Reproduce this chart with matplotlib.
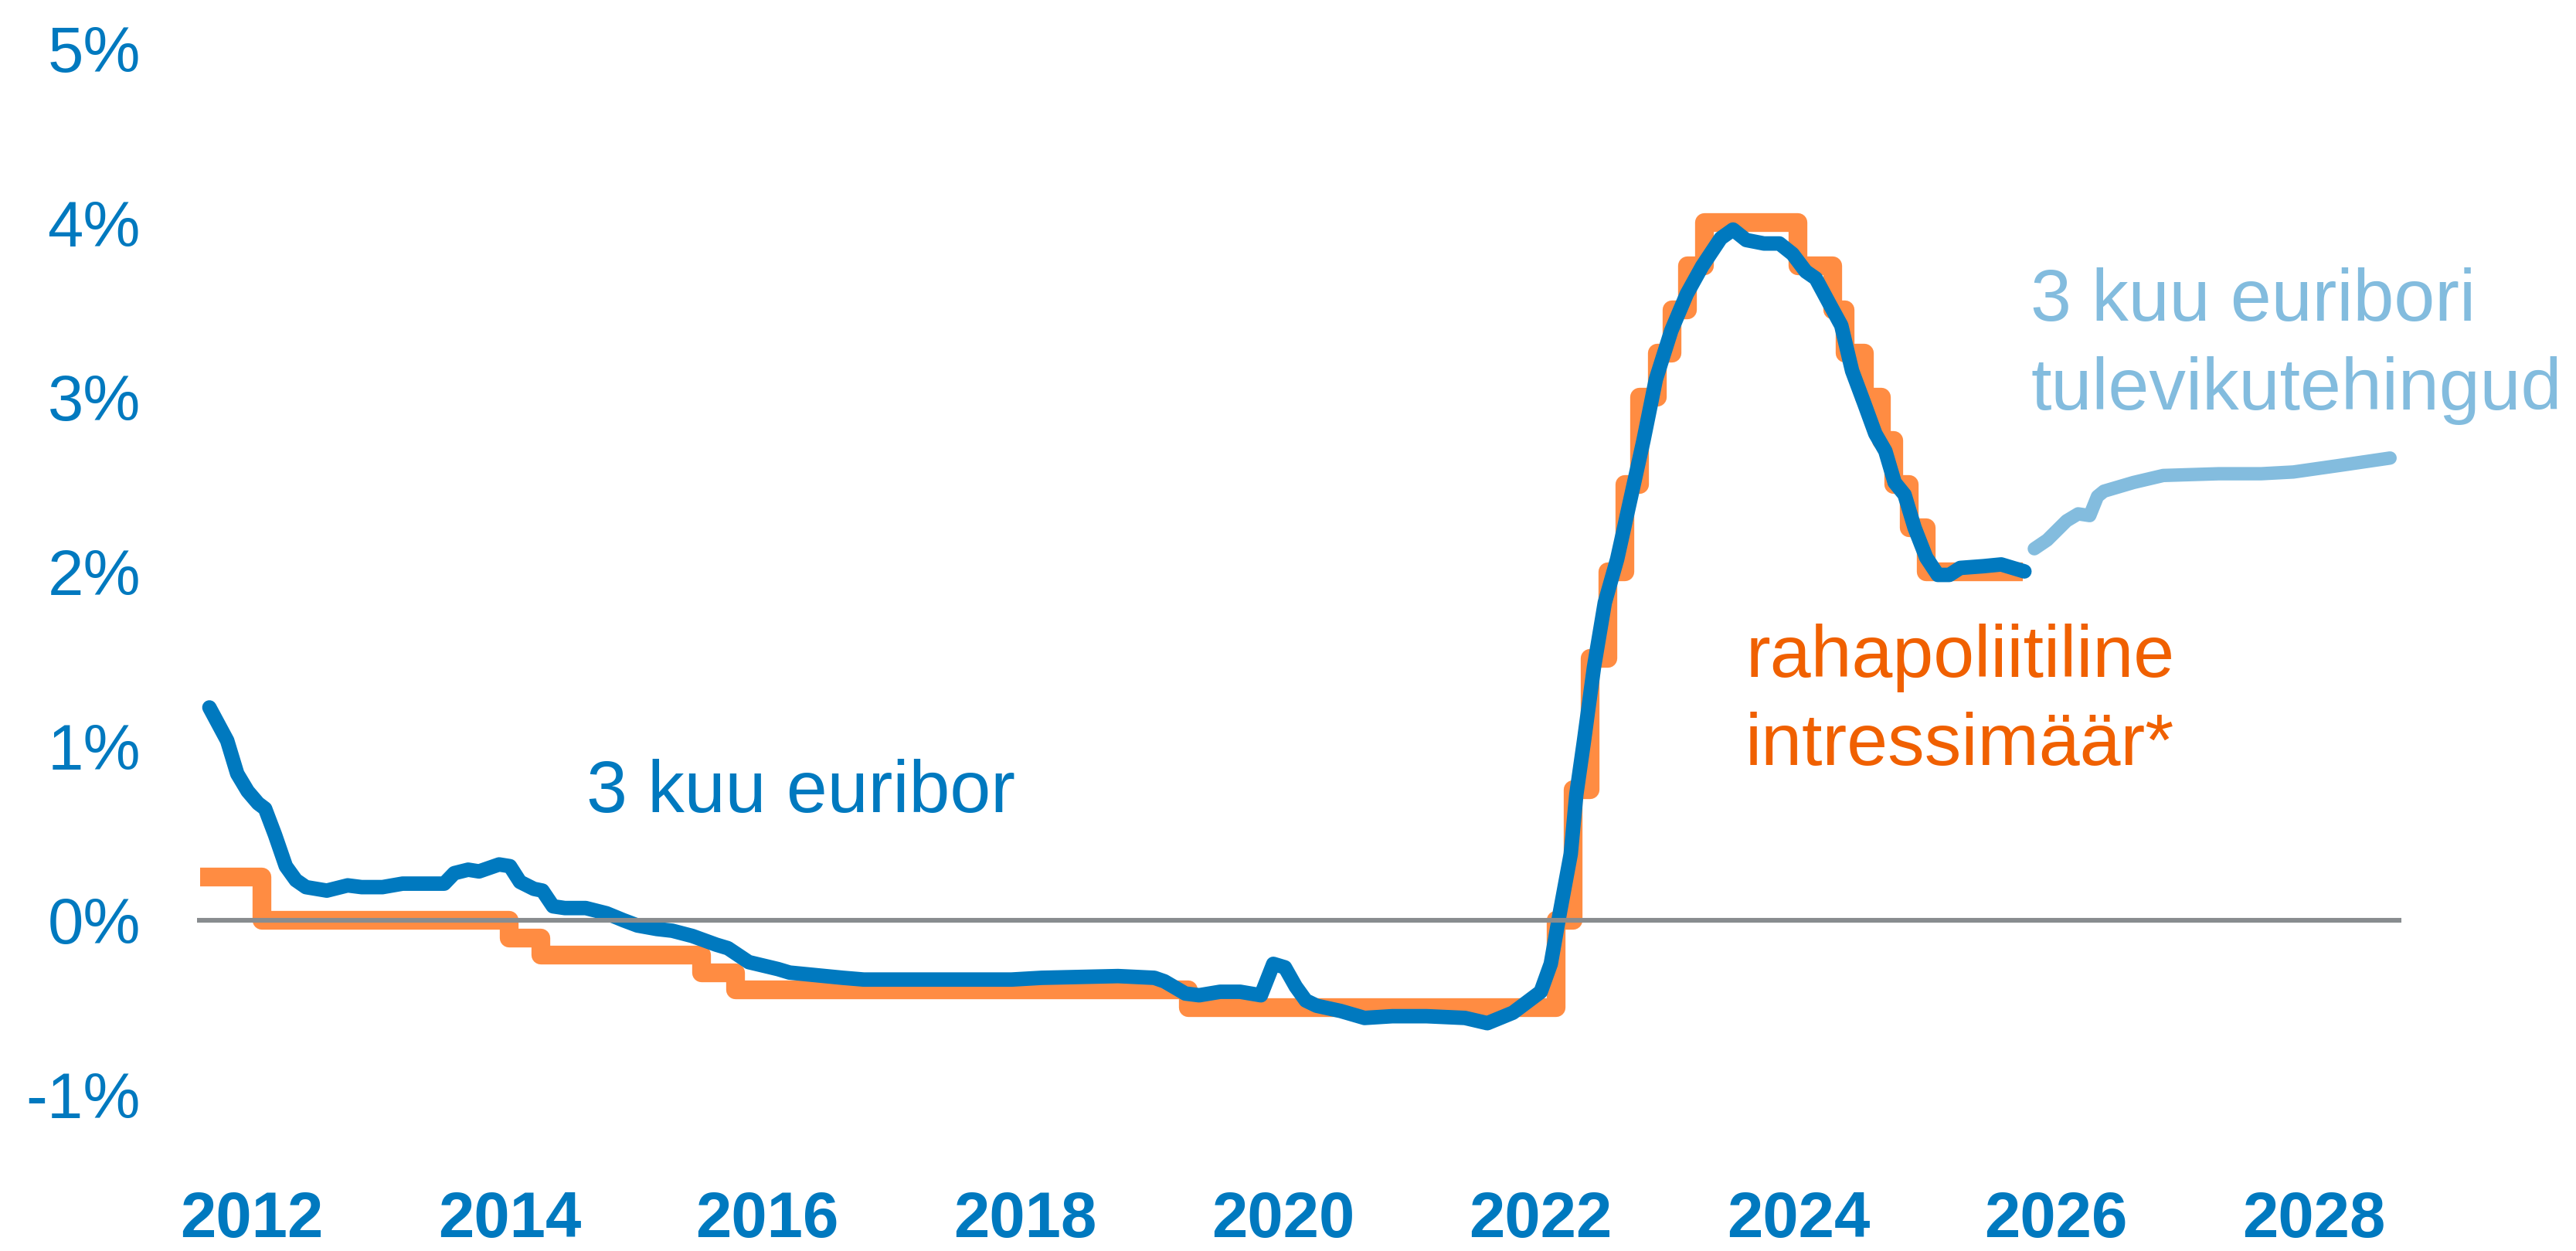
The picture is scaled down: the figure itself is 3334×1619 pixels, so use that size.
import matplotlib
matplotlib.use("Agg")
import matplotlib.pyplot as plt

plt.rcParams['font.family'] = ['Liberation Sans', 'DejaVu Sans']

# ---------------- data ----------------
# 3-month Euribor (decimal year, %)
euribor_t = [2012.120, 2012.258, 2012.336, 2012.417, 2012.498, 2012.552, 2012.629, 2012.713,
             2012.791, 2012.869, 2013.031, 2013.193, 2013.301, 2013.463, 2013.619, 2013.942,
             2014.020, 2014.128, 2014.212, 2014.368, 2014.452, 2014.530, 2014.638, 2014.704,
             2014.786, 2014.878, 2015.040, 2015.201, 2015.333, 2015.441, 2015.591, 2015.711,
             2015.867, 2016.053, 2016.143, 2016.305, 2016.532, 2016.622, 2017.036, 2017.198,
             2018.343, 2018.577, 2019.170, 2019.452, 2019.530, 2019.692, 2019.800, 2019.962,
             2020.118, 2020.279, 2020.375, 2020.465, 2020.549, 2020.627, 2020.711, 2020.897,
             2021.083, 2021.299, 2021.563, 2021.862, 2022.036, 2022.234, 2022.450, 2022.528,
             2022.600, 2022.683, 2022.726, 2022.786, 2022.863, 2022.947, 2023.043, 2023.145,
             2023.247, 2023.343, 2023.463, 2023.583, 2023.703, 2023.847, 2023.942, 2024.044,
             2024.182, 2024.302, 2024.404, 2024.506, 2024.584, 2024.686, 2024.782, 2024.866,
             2024.962, 2025.046, 2025.124, 2025.196, 2025.273, 2025.351, 2025.441, 2025.531,
             2025.621, 2025.705, 2025.885, 2026.023, 2026.203]
euribor_v = [1.22, 1.03, 0.84, 0.74, 0.67, 0.64, 0.49, 0.31,
             0.23, 0.19, 0.17, 0.20, 0.19, 0.19, 0.21, 0.21,
             0.27, 0.29, 0.28, 0.32, 0.31, 0.22, 0.18, 0.17,
             0.08, 0.07, 0.07, 0.04, 0.00, -0.03, -0.05, -0.06,
             -0.09, -0.14, -0.16, -0.24, -0.28, -0.30, -0.33, -0.34,
             -0.34, -0.33, -0.32, -0.33, -0.35, -0.42, -0.43, -0.41,
             -0.41, -0.43, -0.25, -0.27, -0.38, -0.46, -0.49, -0.52,
             -0.56, -0.55, -0.55, -0.56, -0.59, -0.53, -0.41, -0.25,
             0.05, 0.38, 0.72, 1.03, 1.45, 1.82, 2.07, 2.41,
             2.75, 3.10, 3.38, 3.59, 3.75, 3.91, 3.96, 3.90,
             3.88, 3.88, 3.82, 3.72, 3.68, 3.54, 3.41, 3.15,
             2.96, 2.79, 2.69, 2.51, 2.44, 2.25, 2.08, 1.98,
             1.98, 2.02, 2.03, 2.04, 2.00]

# Policy rate (deposit facility): change dates and levels
policy_t = [2012.048, 2012.525, 2014.444, 2014.692, 2015.937, 2016.205, 2019.715,
            2022.568, 2022.703, 2022.836, 2022.970, 2023.104, 2023.219, 2023.355,
            2023.470, 2023.586, 2023.720, 2024.447, 2024.715, 2024.811, 2024.964,
            2025.096, 2025.192, 2025.307, 2025.441, 2026.190]
policy_v = [0.25, 0.00, -0.10, -0.20, -0.30, -0.40, -0.50,
            0.00, 0.75, 1.50, 2.00, 2.50, 3.00, 3.25,
            3.50, 3.75, 4.00, 3.75, 3.50, 3.25, 3.00,
            2.75, 2.50, 2.25, 2.00, 2.00]

# 3-month Euribor futures
futures_t = [2026.28, 2026.38, 2026.53, 2026.62, 2026.71, 2026.77, 2026.82,
             2027.05, 2027.28, 2027.71, 2028.04, 2028.29, 2028.67, 2029.04]
futures_v = [2.13, 2.18, 2.29, 2.33, 2.32, 2.43, 2.46,
             2.51, 2.55, 2.56, 2.56, 2.57, 2.61, 2.65]

year_labels = ['2012', '2014', '2016', '2018', '2020', '2022', '2024', '2026', '2028']
y_ticks = [-1, 0, 1, 2, 3, 4, 5]
y_labels = ['-1%', '0%', '1%', '2%', '3%', '4%', '5%']

# ---------------- style ----------------
BLUE = '#0079BF'
ORANGE = '#FF8C42'
ORANGE_TXT = '#F06000'
LIGHT = '#83BCDE'
GRAY = '#888C8F'

W, H = 3334, 1619
fig = plt.figure(figsize=(W / 100, H / 100), dpi=100)
ax_left, ax_right, ax_top, ax_bottom = 255, 3108, 0, 1500
ax = fig.add_axes([ax_left / W, 1 - ax_bottom / H, (ax_right - ax_left) / W, (ax_bottom - ax_top) / H])

ax.plot(policy_t, policy_v, drawstyle='steps-post', color=ORANGE, lw=17.5,
        solid_joinstyle='round', solid_capstyle='butt', zorder=2)
ax.plot(euribor_t, euribor_v, color=BLUE, lw=13.5, solid_joinstyle='round',
        solid_capstyle='round', zorder=3)
ax.plot(futures_t, futures_v, color=LIGHT, lw=12.5, solid_joinstyle='round',
        solid_capstyle='round', zorder=3)
ax.axhline(0, color=GRAY, lw=4.4, zorder=4)

ax.set_xlim(2012.024, 2029.128)
ax.set_ylim(-1.369, 5.276)

for s in ax.spines.values():
    s.set_visible(False)

ax.set_yticks(y_ticks)
ax.set_yticklabels(y_labels)
ax.tick_params(axis='y', length=0, pad=52.6, labelsize=60, labelcolor=BLUE)

ax.set_xticks([int(y) + 0.45 for y in year_labels])
ax.set_xticklabels(year_labels, fontweight='bold')
ax.tick_params(axis='x', length=0, pad=29, labelsize=60, labelcolor=BLUE)

def ftext(x, y, s, color):
    fig.text(x / W, 1 - y / H, s, color=color, fontsize=68.5, ha='left', va='baseline')

ftext(759, 1051, '3 kuu euribor', BLUE)
ftext(2628, 415, '3 kuu euribori', LIGHT)
ftext(2628, 530, 'tulevikutehingud', LIGHT)
ftext(2259, 876, 'rahapoliitiline', ORANGE_TXT)
ftext(2259, 990, 'intressimäär*', ORANGE_TXT)

fig.savefig('out.png', dpi=100, facecolor='white')
